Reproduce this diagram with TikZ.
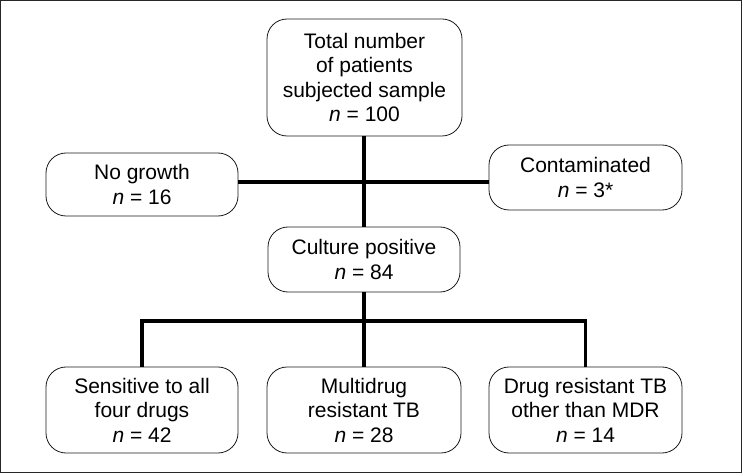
\documentclass[tikz,border=0pt]{standalone}
\usepackage{fontspec}
\setmainfont{Liberation Sans}
\begin{document}
\begin{tikzpicture}[x=1pt,y=-1pt,
  box/.style={draw=black!90, line width=0.8pt, rounded corners=20pt, align=center,
    inner sep=0pt, font=\fontsize{21}{24.5}\selectfont},
  link/.style={line width=3.6pt, black}]
\useasboundingbox (0,0) rectangle (742,473);
\draw[black!85, line width=1.2pt] (0.6,0.6) rectangle (741.4,472.4);
\node[box, minimum width=195pt, minimum height=117pt] (top) at (364.5,77.5)
  {Total number\\of patients\\subjected sample\\\textit{n} = 100};
\node[box, minimum width=192pt, minimum height=63pt] (ng) at (142,184.5)
  {No growth\\\textit{n} = 16};
\node[box, minimum width=193pt, minimum height=65pt] (ct) at (585.5,177.5)
  {Contaminated\\\textit{n} = 3*};
\node[box, minimum width=192pt, minimum height=65pt] (cp) at (364,259.5)
  {Culture positive\\\textit{n} = 84};
\node[box, minimum width=192pt, minimum height=86pt] (s) at (142,410)
  {Sensitive to all\\four drugs\\\textit{n} = 42};
\node[box, minimum width=194pt, minimum height=86pt] (m) at (364,410)
  {Multidrug\\resistant TB\\\textit{n} = 28};
\node[box, minimum width=193pt, minimum height=86pt] (d) at (585.5,410)
  {Drug resistant TB\\other than MDR\\\textit{n} = 14};
\coordinate (j1) at (364,182);
\coordinate (j2) at (364,321);
\draw[link] (top.south -| j1) -- (cp.north -| j1);
\draw[link] (ng.east |- j1) -- (ct.west |- j1);
\draw[link] (cp.south -| j2) -- (m.north -| j2);
\draw[link, line join=miter] (s.north) |- (j2) -| (d.north);
\end{tikzpicture}
\end{document}
